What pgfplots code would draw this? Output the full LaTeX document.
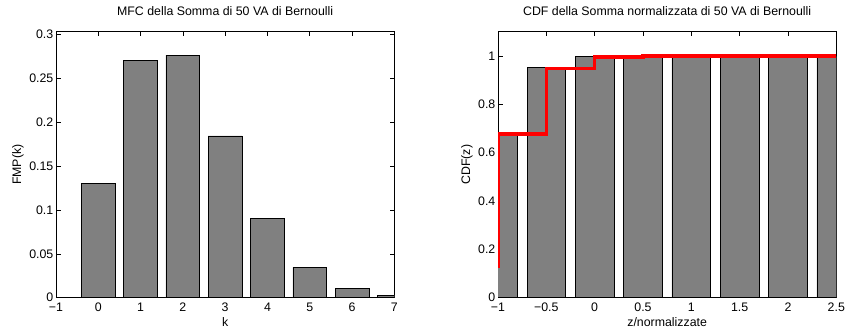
\documentclass[border=0pt]{standalone}
\usepackage{pgfplots}
\pgfplotsset{compat=1.18}
\usepackage{fontspec}
\setmainfont{Liberation Sans}
\definecolor{bargray}{RGB}{128,128,128}
\begin{document}
\begin{tikzpicture}
\useasboundingbox (0bp,0bp) rectangle (846bp,327bp);
\pgfplotsset{
  mat/.style={
    scale only axis, width=338.3bp, height=266bp,
    tick align=inside, major tick length=4.5bp,
    axis line style={line width=0.6bp},
    every tick/.style={black, line width=0.5bp},
    /pgf/number format/assume math mode=true,
    ticklabel style={font=\fontsize{12.4}{14}\selectfont},
    xticklabel style={anchor=north, inner sep=0pt, yshift=-5bp},
    yticklabel style={anchor=east, inner sep=0pt, xshift=-2.5bp},
    title style={font=\fontsize{12.4}{14}\selectfont, at={(axis description cs:0.5,1)}, anchor=base, yshift=10.6bp},
    xlabel style={font=\fontsize{12.4}{14}\selectfont, at={(axis description cs:0.5,0)}, anchor=base, yshift=-28.3bp},
    ylabel style={font=\fontsize{12.4}{14}\selectfont, at={(axis description cs:0,0.5)}, anchor=center},
  }
}
% Left: PMF
\begin{axis}[mat, at={(56bp,29.3bp)}, anchor=south west,
  xmin=-1, xmax=7, ymin=0, ymax=0.303,
  xtick={-1,0,1,2,3,4,5,6,7},
  xticklabels={−1,0,1,2,3,4,5,6,7},
  ytick={0,0.05,0.1,0.15,0.2,0.25,0.3},
  yticklabels={0,0.05,0.1,0.15,0.2,0.25,0.3},
  title={MFC della Somma di 50 VA di Bernoulli},
  xlabel={k}, ylabel={FMP(k)},
  ylabel style={yshift=38bp},
]
\addplot[ybar, bar width=0.8, fill=bargray, draw=black, line width=0.6bp]
  coordinates {(0,0.1299) (1,0.2706) (2,0.2762) (3,0.1842) (4,0.0902) (5,0.0346) (6,0.0108) (7,0.0028)};
\end{axis}
% Right: CDF
\begin{axis}[mat, at={(498bp,29.3bp)}, anchor=south west,
  xmin=-1, xmax=2.5, ymin=0, ymax=1.1,
  xtick={-1,-0.5,0,0.5,1,1.5,2,2.5},
  xticklabels={−1,−0.5,0,0.5,1,1.5,2,2.5},
  ytick={0,0.2,0.4,0.6,0.8,1},
  yticklabels={0,0.2,0.4,0.6,0.8,1},
  title={CDF della Somma normalizzata di 50 VA di Bernoulli},
  xlabel={z/normalizzate}, ylabel={CDF(z)},
  ylabel style={yshift=31bp},
]
\addplot[ybar, bar width=0.4, fill=bargray, draw=black, line width=0.6bp]
  coordinates {(-1,0.677) (-0.5,0.951) (0,0.998) (0.5,0.9999) (1,1) (1.5,1) (2,1) (2.5,1)};
\addplot[const plot, red, line width=3.6bp]
  coordinates {(-1.5,0.13) (-1,0.677) (-0.5,0.948) (0,0.996) (0.5,0.9999) (1,1) (1.5,1) (2,1) (2.5,1)};
\end{axis}
\end{tikzpicture}
\end{document}
